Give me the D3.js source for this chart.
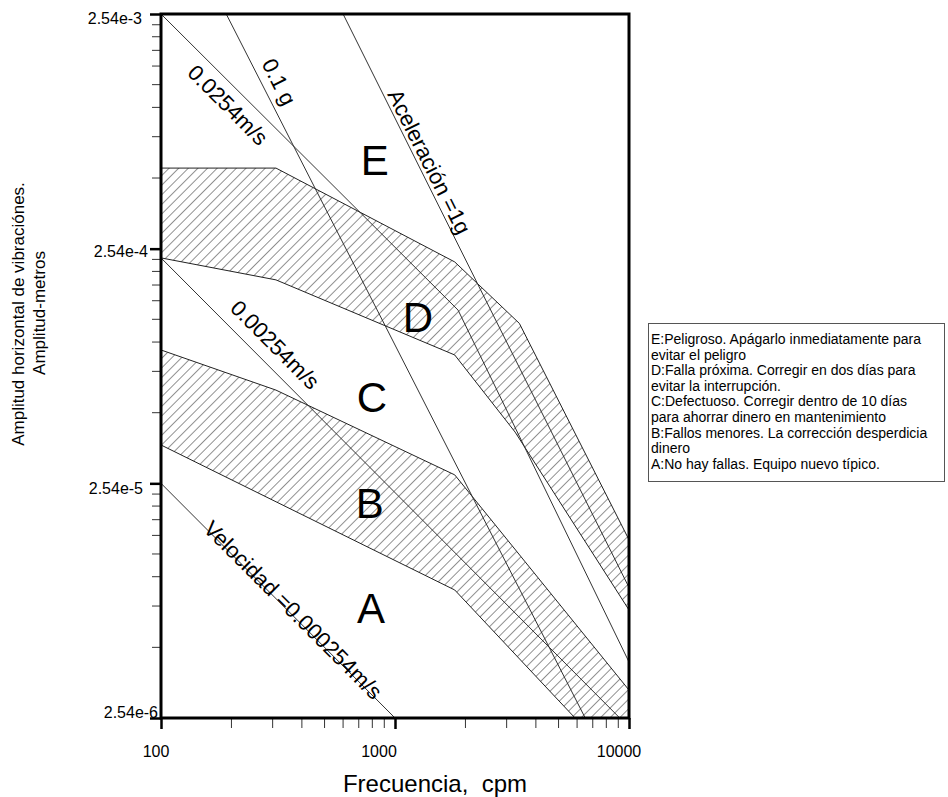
<!DOCTYPE html>
<html><head><meta charset="utf-8">
<script src="https://cdn.jsdelivr.net/npm/d3@7"></script>
<style>
html,body{margin:0;padding:0;background:#fff;}
svg{display:block;font-family:"Liberation Sans",Arial,Helvetica,sans-serif;}
text{white-space:pre;}
</style></head>
<body>
<svg id="chart" width="948" height="797"></svg>
<script>
// ---- data (frequency in cpm, amplitude in metres) ----
const xTicks = [100, 1000, 10000];
const xTickLabels = ["100", "1000", "10000"];
const yTicks = [2.54e-3, 2.54e-4, 2.54e-5, 2.54e-6];
const yTickLabels = ["2.54e-3", "2.54e-4", "2.54e-5", "2.54e-6"];

// zone D band (upper hatched band)
const bandDTop = [[100, 5.6e-4], [310, 5.6e-4], [1800, 2.23e-4], [3400, 1.22e-4], [10000, 1.46e-5]];
const bandDBottom = [[100, 2.32e-4], [310, 1.87e-4], [1800, 8.95e-5], [3260, 4.2e-5], [10000, 7.33e-6]];
// zone B band (lower hatched band)
const bandBTop = [[100, 9.4e-5], [310, 6.34e-5], [1800, 2.76e-5], [10000, 3.34e-6]];
const bandBBottom = [[100, 3.7e-5], [1800, 8.92e-6], [5880, 2.54e-6], [10000, 1.45e-6]];

// reference lines
const lineVel0254 = [[100, 2.54e-3], [1860, 1.39e-4], [10000, 4.4e-6]];
const lineVel00254 = [[100, 2.32e-4], [10000, 2.32e-6]];
const lineVel000254 = [[100, 2.54e-5], [1000, 2.54e-6]];
const lineAcc01g = [[190, 2.54e-3], [6500, 2.54e-6]];
const lineAcc1g = [[600, 2.54e-3], [10000, 9.14e-6]];

// zone letters
const zoneNames = ["E", "D", "C", "B", "A"];
const zonePos = [[820, 6.06e-4], [1253, 1.29e-4], [797, 5.87e-5], [781, 2.09e-5], [790, 7.42e-6]];

// line labels
const lineLabelText = ["0.0254m/s", "0.1 g", "Aceleración =1g", "0.00254m/s", "Velocidad =0.000254m/s"];
const lineLabelPos = [[193, 1.039e-3], [319, 1.303e-3], [1399, 5.96e-4], [307, 9.89e-5], [366, 7.33e-6]];
const lineLabelAngle = [45, 63.4, 63.4, 45, 45];

const legendLines = [
  "E:Peligroso. Apágarlo inmediatamente para",
  "evitar el peligro",
  "D:Falla próxima. Corregir en dos días para",
  "evitar la interrupción.",
  "C:Defectuoso. Corregir dentro de 10 días",
  "para ahorrar dinero en mantenimiento",
  "B:Fallos menores. La corrección desperdicia",
  "dinero",
  "A:No hay fallas. Equipo nuevo típico."
];

// ---- drawing ----
const svg = d3.select("#chart");
const L = 161, R = 629, T = 14, B = 718;
const x = d3.scaleLog().domain([100, 10000]).range([L, R]);
const y = d3.scaleLog().domain([2.54e-6, 2.54e-3]).range([B, T]);

const defs = svg.append("defs");
defs.append("clipPath").attr("id", "plotclip")
  .append("rect").attr("x", L).attr("y", T).attr("width", R - L).attr("height", B - T);
const pat = defs.append("pattern").attr("id", "hatch")
  .attr("patternUnits", "userSpaceOnUse").attr("width", 6.8).attr("height", 20)
  .attr("patternTransform", "rotate(45)");
pat.append("line").attr("x1", 0).attr("y1", 0).attr("x2", 0).attr("y2", 20)
  .attr("stroke", "#222").attr("stroke-width", 1);

const plot = svg.append("g").attr("clip-path", "url(#plotclip)");
const lineGen = d3.line().x(d => x(d[0])).y(d => y(d[1]));

function band(top, bottom) {
  return top.concat(bottom.slice().reverse());
}
[band(bandDTop, bandDBottom), band(bandBTop, bandBBottom)].forEach(poly => {
  plot.append("path").attr("d", lineGen(poly) + "Z")
    .attr("fill", "url(#hatch)").attr("stroke", "#222").attr("stroke-width", 1);
});

[lineVel0254, lineVel00254, lineVel000254, lineAcc01g, lineAcc1g].forEach(ln => {
  plot.append("path").attr("d", lineGen(ln))
    .attr("fill", "none").attr("stroke", "#333").attr("stroke-width", 1);
});

// zone letters
svg.append("g").selectAll("text").data(zoneNames).join("text")
  .attr("x", (d, i) => x(zonePos[i][0])).attr("y", (d, i) => y(zonePos[i][1]))
  .attr("text-anchor", "middle").attr("dominant-baseline", "central")
  .attr("font-size", 42).attr("fill", "#000").text(d => d);

// line labels
svg.append("g").selectAll("text").data(lineLabelText).join("text")
  .attr("transform", (d, i) => `translate(${x(lineLabelPos[i][0])},${y(lineLabelPos[i][1])}) rotate(${lineLabelAngle[i]})`)
  .attr("text-anchor", "middle").attr("dominant-baseline", "central")
  .attr("font-size", 22).attr("fill", "#000").text(d => d);

// axes
const xAxis = d3.axisBottom(x).tickValues(xTicks).tickFormat("").tickSizeOuter(0).tickSize(11);
const gx = svg.append("g").attr("transform", `translate(0,${B})`).call(xAxis);
gx.select(".domain").remove();
gx.selectAll(".tick line").attr("stroke", "#000").attr("stroke-width", 2.5);
const xMinor = [];
[100, 1000].forEach(b => { for (let k = 2; k <= 9; k++) xMinor.push(b * k); });
gx.selectAll(".minor").data(xMinor).join("line").attr("class", "minor")
  .attr("x1", d => x(d)).attr("x2", d => x(d)).attr("y1", 0).attr("y2", 10)
  .attr("stroke", "#333").attr("stroke-width", 1);

const yAxis = d3.axisLeft(y).tickValues(yTicks).tickFormat("").tickSizeOuter(0).tickSize(11);
const gy = svg.append("g").attr("transform", `translate(${L},0)`).call(yAxis);
gy.select(".domain").remove();
gy.selectAll(".tick line").attr("stroke", "#000").attr("stroke-width", 2.5);
const yMinor = [];
[2.54e-6, 2.54e-5, 2.54e-4].forEach(b => { for (let k = 2; k <= 9; k++) yMinor.push(b * k); });
gy.selectAll(".minor").data(yMinor).join("line").attr("class", "minor")
  .attr("y1", d => y(d)).attr("y2", d => y(d)).attr("x1", 0).attr("x2", -9)
  .attr("stroke", "#333").attr("stroke-width", 1);

// frame
svg.append("rect").attr("x", L).attr("y", T).attr("width", R - L).attr("height", B - T)
  .attr("fill", "none").attr("stroke", "#000").attr("stroke-width", 3);

// tick labels
const xLabelDx = [-5, -16, -10];
svg.append("g").selectAll("text").data(xTicks).join("text")
  .attr("x", (d, i) => x(d) + xLabelDx[i]).attr("y", 757)
  .attr("text-anchor", "middle").attr("font-size", 16).attr("fill", "#000")
  .text((d, i) => xTickLabels[i]);
const yLabelDx = [-19, -13, -18, -3];
const yLabelDy = [4, 3, 5, -6];
svg.append("g").selectAll("text").data(yTicks).join("text")
  .attr("x", (d, i) => L + yLabelDx[i]).attr("y", (d, i) => y(d) + yLabelDy[i])
  .attr("text-anchor", "end").attr("dominant-baseline", "central")
  .attr("font-size", 16).attr("fill", "#000")
  .text((d, i) => yTickLabels[i]);

// axis titles
svg.append("text").attr("x", 435).attr("y", 792).attr("text-anchor", "middle")
  .attr("font-size", 24).attr("fill", "#000").text("Frecuencia,  cpm");
svg.append("text").attr("transform", "translate(24,314) rotate(-90)").attr("text-anchor", "middle")
  .attr("font-size", 17).attr("fill", "#000").text("Amplitud horizontal de vibraciónes.");
svg.append("text").attr("transform", "translate(45,313) rotate(-90)").attr("text-anchor", "middle")
  .attr("font-size", 17).attr("fill", "#000").text("Amplitud-metros");

// legend box
const lg = svg.append("g");
lg.append("rect").attr("x", 648.5).attr("y", 323.5).attr("width", 296).attr("height", 158)
  .attr("fill", "#fff").attr("stroke", "#555").attr("stroke-width", 1);
lg.selectAll("text").data(legendLines).join("text")
  .attr("x", 651).attr("y", (d, i) => 344 + i * 15.6)
  .attr("font-size", 14).attr("fill", "#000").text(d => d);
</script>
</body></html>
